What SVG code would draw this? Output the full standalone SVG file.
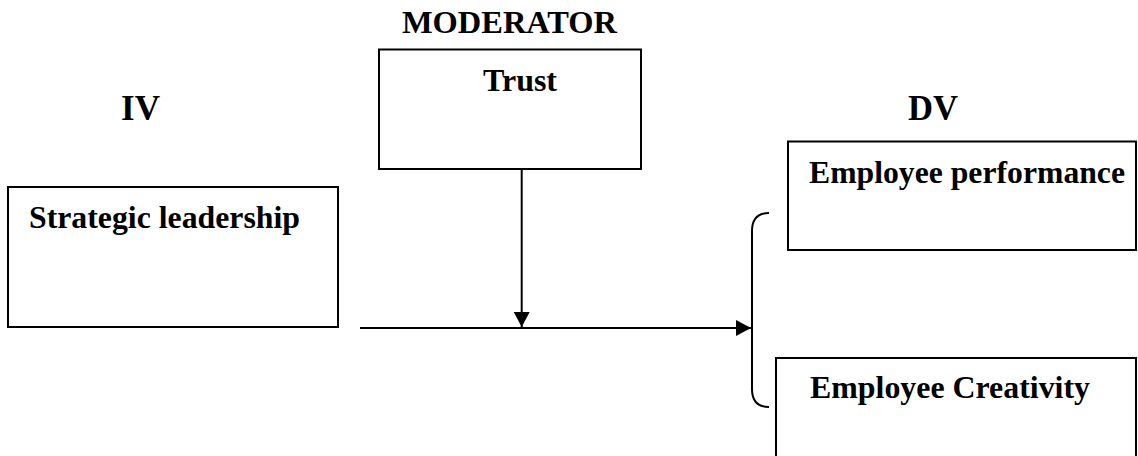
<svg xmlns="http://www.w3.org/2000/svg" width="1138" height="456" viewBox="0 0 1138 456">
<style>
.box{fill:#fff;stroke:#000;stroke-width:2}
.t{font-family:"Liberation Serif","Times New Roman",serif;font-weight:bold;font-size:32px;fill:#000}
.h{font-size:36px}
.ln{fill:none;stroke:#000;stroke-width:2}
</style>
<defs>
<marker id="ah" markerWidth="16" markerHeight="16" refX="15" refY="8" orient="auto" markerUnits="userSpaceOnUse">
<path d="M0,0 L15,8 L0,16 Z" fill="#000"/>
</marker>
</defs>
<text class="t" x="402" y="33" textLength="215" lengthAdjust="spacingAndGlyphs">MODERATOR</text>
<text class="t h" x="121" y="120" textLength="39" lengthAdjust="spacingAndGlyphs">IV</text>
<text class="t h" x="908" y="120" textLength="50" lengthAdjust="spacingAndGlyphs">DV</text>
<g id="trust">
<rect class="box" x="379" y="49.5" width="262" height="119.5"/>
<text class="t" x="483" y="91" textLength="74" lengthAdjust="spacingAndGlyphs">Trust</text>
</g>
<g id="strategic">
<rect class="box" x="8" y="187" width="330" height="140"/>
<text class="t" x="29" y="228" textLength="271" lengthAdjust="spacingAndGlyphs">Strategic leadership</text>
</g>
<g id="performance">
<rect class="box" x="788" y="141.5" width="348" height="108.5"/>
<text class="t" x="809" y="183" textLength="316" lengthAdjust="spacingAndGlyphs">Employee performance</text>
</g>
<g id="creativity">
<rect class="box" x="776" y="358" width="360" height="120"/>
<text class="t" x="810" y="398" textLength="280" lengthAdjust="spacingAndGlyphs">Employee Creativity</text>
</g>
<g id="connectors">
<line class="ln" x1="360" y1="328" x2="751" y2="328" marker-end="url(#ah)"/>
<line class="ln" x1="521.7" y1="169" x2="521.7" y2="327" marker-end="url(#ah)"/>
<path class="ln" d="M769,213 Q752,213 752,231 L752,389 Q752,407 769,407"/>
</g>
</svg>
